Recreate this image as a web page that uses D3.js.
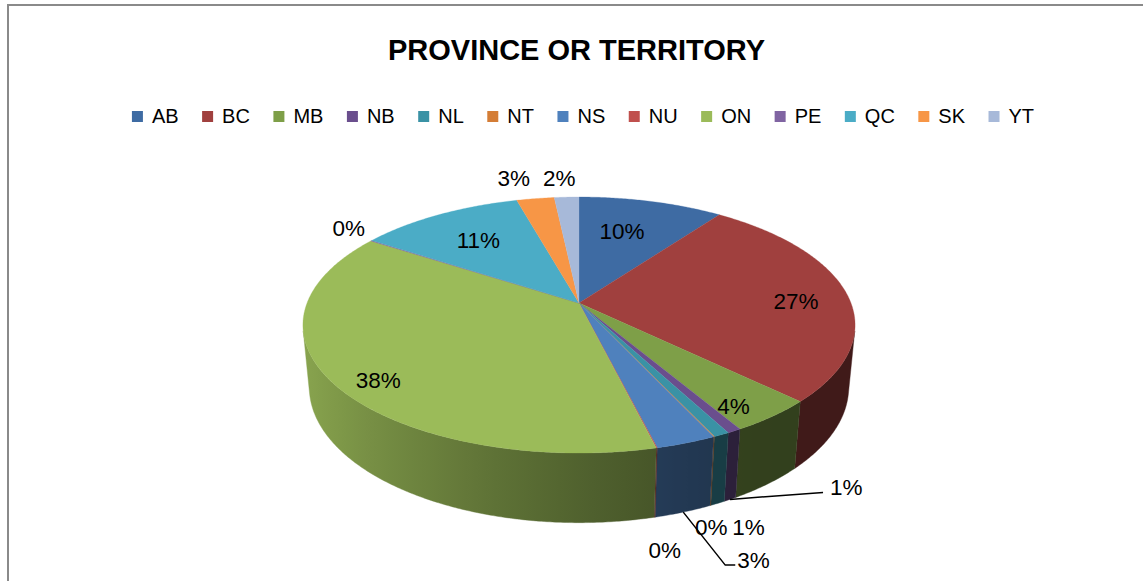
<!DOCTYPE html>
<html><head><meta charset="utf-8">
<script src="https://cdn.jsdelivr.net/npm/d3@7"></script>
<style>html,body{margin:0;padding:0;background:#fff;} svg{display:block;}</style>
</head><body>
<svg id="chart" width="1143" height="581"></svg>
<script>
// ---- data ----
const title = "PROVINCE OR TERRITORY";
const categories = ["AB","BC","MB","NB","NL","NT","NS","NU","ON","PE","QC","SK","YT"];
const shares = [10.0, 27.3, 4.3, 0.7, 0.8, 0.05, 3.0, 0.05, 38.0, 0.1, 11.4, 2.6, 1.7];
const colors = ["#3E6BA3","#A0403E","#7E9F48","#6A4E8D","#3A92A5","#D47D36","#4F81BD","#C0504D","#9BBB59","#8064A2","#4BACC6","#F79646","#A7B9D9"];

// ---- label placement (style only) ----
const labelPlacement = {
  AB:{on:"top", f:0.56, dx:0, dy:-11},
  BC:{on:"top", f:0.81, dx:0, dy:6},
  MB:{on:"top", f:0.82, dx:0, dy:13},
  NB:{on:"base", leader:[[93,-7]], tdx:7, tdy:-5.5},
  NL:{on:"base", dx:31, dy:24},
  NT:{on:"base", dx:1, dy:21},
  NS:{on:"base", leader:[[42,53],[52,53]], tdx:2, tdy:-5},
  NU:{on:"base", dx:10, dy:33},
  ON:{on:"top", f:0.83, dx:0, dy:12},
  PE:{on:"top", f:1.12, dx:0, dy:-6},
  QC:{on:"top", f:0.69, dx:0, dy:0},
  SK:{on:"top", f:1.2, dx:-14.5, dy:-3.3},
  YT:{on:"top", f:1.2, dx:-5.4, dy:-1.6}
};

const FONT = "'Liberation Sans', Arial, sans-serif";
const svg = d3.select("#chart");
const defs = svg.append("defs");

// frame
svg.append("rect").attr("x",8).attr("y",5).attr("width",1400).attr("height",900)
  .attr("fill","none").attr("stroke","#8a8a8a").attr("stroke-width",2);

// title
svg.append("text").attr("x",576.5).attr("y",60).attr("text-anchor","middle")
  .attr("font-family",FONT).attr("font-weight","bold").attr("font-size",29)
  .attr("fill","#000").text(title);

// legend
const legend = svg.append("g");
const items = categories.map((c,i)=>{
  const g = legend.append("g");
  g.append("rect").attr("x",0).attr("y",111).attr("width",11).attr("height",11).attr("fill",colors[i]);
  const t = g.append("text").attr("x",20).attr("y",123).attr("font-family",FONT).attr("font-size",20).attr("fill","#000").text(c);
  return {g, w: t.node().getComputedTextLength()};
});
const gap = 23.5;
const totalW = d3.sum(items, d=>20+d.w) + gap*(items.length-1);
let lx = 583 - totalW/2;
items.forEach(it=>{ it.g.attr("transform",`translate(${lx},0)`); lx += 20 + it.w + gap; });

// ---- 3D perspective pie ----
const P = {cx:579, cy:303, F:1406, D:5.17, ca:0.8896, sa:0.4568, h:0.259};
function proj(r, th, Y){
  const X = r*Math.sin(th), Z = -r*Math.cos(th);
  const depth = P.D - Y*P.sa - Z*P.ca;
  const yc = Y*P.ca - Z*P.sa;
  return [P.cx + P.F*X/depth, P.cy - P.F*yc/depth];
}
const data = categories.map((c,i)=>({c, v:shares[i], color:colors[i]}));
const arcs = d3.pie().sort(null).value(d=>d.v).startAngle(0).endAngle(2*Math.PI)(data);
const total = d3.sum(shares);

function shade(th){
  const deg = th*180/Math.PI;
  const t = Math.max(0, Math.min(1, (deg-140)/120));
  const s = t*t*(3-2*t);
  return 0.4 + 0.48*s;
}
function darker(c, f){ const r = d3.rgb(c); return d3.rgb(r.r*f, r.g*f, r.b*f).formatHex(); }

const gSide = svg.append("g");
const visA = Math.acos(-1/(P.D*P.ca));
arcs.forEach((a,i)=>{
  const a0 = Math.max(a.startAngle, visA), a1 = Math.min(a.endAngle, 2*Math.PI - visA);
  if (a1 <= a0) return;
  const n = Math.max(2, Math.ceil((a1-a0)/(0.5*Math.PI/180)));
  const topPts = [], botPts = [];
  for (let j=0;j<=n;j++){
    const t = a0 + (a1-a0)*j/n;
    topPts.push(proj(1,t,0)); botPts.push(proj(1,t,-P.h));
  }
  const pts = topPts.concat(botPts.reverse());
  const xA = proj(1,a1,0)[0], xB = proj(1,a0,0)[0];
  let fill;
  if (xB - xA < 2){
    fill = darker(a.data.color, shade((a0+a1)/2));
  } else {
    const id = "sg"+i;
    const lg = defs.append("linearGradient").attr("id",id).attr("gradientUnits","userSpaceOnUse")
      .attr("x1",xA).attr("y1",0).attr("x2",xB).attr("y2",0);
    const m = 16;
    for (let j=m;j>=0;j--){
      const t = a0 + (a1-a0)*j/m;
      const x = proj(1,t,0)[0];
      lg.append("stop").attr("offset",Math.max(0,Math.min(1,(x-xA)/(xB-xA)))).attr("stop-color",darker(a.data.color, shade(t)));
    }
    fill = `url(#${id})`;
  }
  gSide.append("path").attr("d", d3.line()(pts)+"Z").attr("fill",fill).attr("stroke",fill).attr("stroke-width",0.4);
});

const gTop = svg.append("g");
arcs.forEach(a=>{
  const n = Math.max(2, Math.ceil((a.endAngle-a.startAngle)/(0.5*Math.PI/180)));
  const pts = [proj(0,0,0)];
  for (let j=0;j<=n;j++) pts.push(proj(1, a.startAngle + (a.endAngle-a.startAngle)*j/n, 0));
  gTop.append("path").attr("d", d3.line()(pts)+"Z").attr("fill",a.data.color)
    .attr("stroke",a.data.color).attr("stroke-width",0.3).attr("stroke-linejoin","round");
});

// labels
const gLab = svg.append("g");
arcs.forEach(a=>{
  const pl = labelPlacement[a.data.c];
  const mid = (a.startAngle + a.endAngle)/2;
  const txt = Math.round(a.data.v/total*100) + "%";
  let anchor = pl.on === "top" ? proj(pl.f, mid, 0) : proj(1, mid, -P.h);
  if (pl.leader){
    const pts = [anchor].concat(pl.leader.map(d=>[anchor[0]+d[0], anchor[1]+d[1]]));
    gLab.append("path").attr("d", d3.line()(pts)).attr("fill","none").attr("stroke","#000").attr("stroke-width",1.5);
    const end = pts[pts.length-1];
    gLab.append("text").attr("x",end[0]+pl.tdx).attr("y",end[1]+pl.tdy).attr("dy","0.36em")
      .attr("text-anchor","start").attr("font-family",FONT).attr("font-size",22.5).attr("fill","#000").text(txt);
  } else {
    gLab.append("text").attr("x",anchor[0]+pl.dx).attr("y",anchor[1]+pl.dy).attr("dy","0.36em")
      .attr("text-anchor","middle").attr("font-family",FONT).attr("font-size",22.5).attr("fill","#000").text(txt);
  }
});
</script>
</body></html>
